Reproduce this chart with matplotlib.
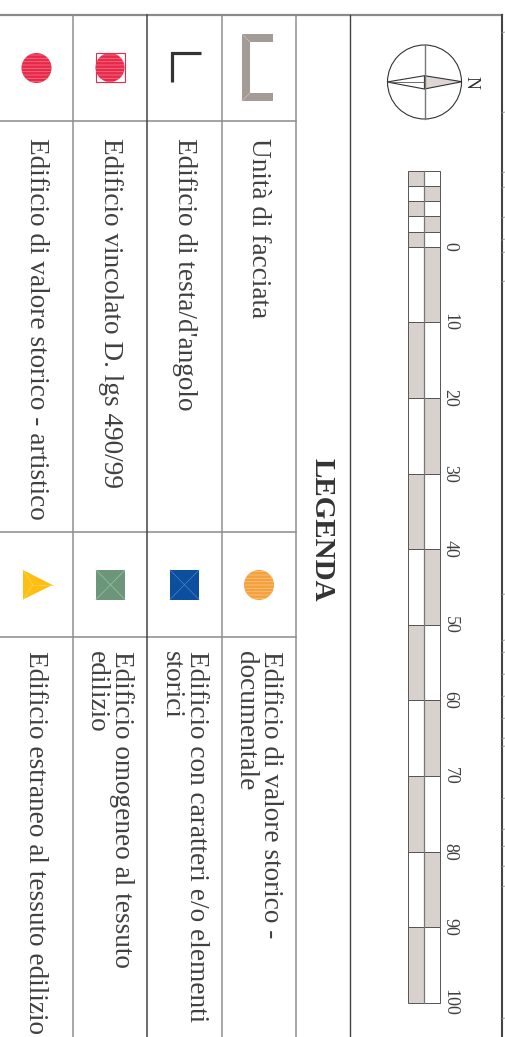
import matplotlib
matplotlib.use("Agg")
import matplotlib.pyplot as plt
from matplotlib.patches import Circle, Rectangle, Polygon

plt.rcParams['font.family'] = ['Liberation Serif', 'DejaVu Serif']
plt.rcParams['hatch.linewidth'] = 0.6

# legend entries (column 0 = left)
top_labels = ["Edificio di valore storico - artistico",
              "Edificio vincolato D. lgs 490/99",
              "Edificio di testa/d'angolo",
              "Unità di facciata"]
bottom_labels = ["Edificio estraneo al tessuto edilizio",
                 "Edificio omogeneo al tessuto\nedilizio",
                 "Edificio con caratteri e/o elementi\nstorici",
                 "Edificio di valore storico -\ndocumentale"]

# scale bar (metres)
scale_ticks = [0, 10, 20, 30, 40, 50, 60, 70, 80, 90, 100]
scale_sub = [-10, -8, -6, -4, -2]

# little marks of the map frame on the right edge
edge_marks = [33, 113, 173, 188, 218, 240, 253, 282, 595, 641, 653, 675,
              697, 719, 739, 747, 799, 830, 847, 867, 887, 1019]

W, H = 505, 1037
fig = plt.figure(figsize=(W / 100, H / 100), dpi=100)
ax = fig.add_axes([0, 0, 1, 1])
ax.set_xlim(0, W)
ax.set_ylim(H, 0)
ax.axis("off")

col_x = [73, 147, 222, 296]
col_c = [36.5, 110, 184.5, 259]
txt = "#404040"

# table lines
ax.plot([0, 502], [15, 15], color="#8a8a8a", lw=1.6)
for y in [120.5, 532, 637]:
    ax.plot([0, 296], [y, y], color="#8a8a8a", lw=1.1)
for x, c in zip(col_x, ["#8f8f8f", "#444444", "#8f8f8f", "#8f8f8f"]):
    ax.plot([x, x], [15, H], color=c, lw=1.1)
ax.plot([350, 350], [15, H], color="#444444", lw=1.0)
ax.plot([502, 502], [15, H], color="#444444", lw=1.5)
for y in edge_marks:
    ax.plot([502, 505], [y, y - 1], color="#999999", lw=0.6)

# symbols, first row
red = "#e8294a"
ax.add_patch(Circle((36.5, 68), 15, facecolor=red, edgecolor="#f3708a", lw=0, hatch="-----"))
ax.add_patch(Rectangle((95.5, 53), 29, 29, facecolor="none", edgecolor=red, lw=0.8))
ax.add_patch(Circle((110, 67.5), 14.5, facecolor=red, edgecolor="#f3708a", lw=0, hatch="-----"))
ax.plot([172, 172, 200.5], [82, 53, 53], color="#333333", lw=2.3,
        solid_joinstyle="miter", solid_capstyle="butt")
bracket = [(273, 34), (242, 34), (242, 101), (273, 101), (273, 93),
           (250, 93), (250, 42), (273, 42)]
ax.add_patch(Polygon(bracket, closed=True, facecolor="#a59b96", edgecolor="none"))
ax.plot([242, 250], [34, 42], color="#c9c1bd", lw=0.5)
ax.plot([242, 250], [101, 93], color="#c9c1bd", lw=0.5)

# symbols, second row
ax.add_patch(Polygon([(23, 570), (52.5, 585), (23, 599.5)], closed=True,
                     facecolor="#fcbf12", edgecolor="none"))
for p in [(23, 570), (52.5, 585), (23, 599.5)]:
    ax.plot([32.8, p[0]], [585, p[1]], color="#fdd35a", lw=0.5)
for x0, fc, lc in [(96, "#6c9679", "#a3c0aa"), (170, "#0b4f9e", "#4d82c4")]:
    ax.add_patch(Rectangle((x0, 570), 29, 29.5, facecolor=fc, edgecolor="none"))
    ax.plot([x0, x0 + 29], [570, 599.5], color=lc, lw=0.5)
    ax.plot([x0, x0 + 29], [599.5, 570], color=lc, lw=0.5)
ax.add_patch(Circle((259, 585), 15, facecolor="#f5a03c", edgecolor="#f9c57f", lw=0, hatch="-----"))

# legend texts
for i in range(4):
    ax.text(col_c[i], 138, top_labels[i], rotation=-90, rotation_mode="anchor",
            ha="left", va="center", fontsize=19.6, color=txt)
    ax.text(col_c[i] - 1, 651, bottom_labels[i], rotation=-90, rotation_mode="anchor",
            ha="left", va="center", fontsize=19.6, color=txt, linespacing=1.0)

ax.text(322, 530, "LEGENDA", rotation=-90, rotation_mode="anchor", ha="center",
        va="center", fontsize=21, fontweight="bold", color="#333333")

# scale bar
y0, k = 246.7, 7.56
xl, xm, xr = 408, 424, 439.5
grey = "#d9d1cd"

def sy(v):
    return y0 + v * k

for j, v in enumerate(scale_sub):
    left = grey if j % 2 == 0 else "white"
    right = "white" if j % 2 == 0 else grey
    ax.add_patch(Rectangle((xl, sy(v)), xm - xl, sy(v + 2) - sy(v), facecolor=left, edgecolor="#555555", lw=0.7))
    ax.add_patch(Rectangle((xm, sy(v)), xr - xm, sy(v + 2) - sy(v), facecolor=right, edgecolor="#555555", lw=0.7))
for n, v in enumerate(scale_ticks[:-1]):
    left = grey if n % 2 == 1 else "white"
    right = "white" if n % 2 == 1 else grey
    ax.add_patch(Rectangle((xl, sy(v)), xm - xl, sy(v + 10) - sy(v), facecolor=left, edgecolor="#555555", lw=0.7))
    ax.add_patch(Rectangle((xm, sy(v)), xr - xm, sy(v + 10) - sy(v), facecolor=right, edgecolor="#555555", lw=0.7))
ax.plot([xm, xm], [sy(scale_sub[0]), sy(scale_ticks[-1])], color="#777777", lw=0.9)
for v in scale_ticks:
    ax.text(450, sy(v), str(v), rotation=-90, rotation_mode="anchor", ha="center",
            va="center", fontsize=13, color=txt)

# north arrow
ax.add_patch(Circle((424.5, 82), 37, facecolor="none", edgecolor="#333333", lw=0.8))
ax.add_patch(Polygon([(387, 82), (424.5, 75.7), (424.5, 89)], closed=True,
                     facecolor="white", edgecolor="#333333", lw=0.8))
ax.add_patch(Polygon([(424.5, 75.7), (462, 81.7), (424.5, 89)], closed=True,
                     facecolor="#ddd6d3", edgecolor="#333333", lw=0.8))
ax.plot([387, 424.5], [82, 82], color="#555555", lw=0.6)
ax.plot([424.5, 424.5], [45, 119], color="#777777", lw=1.0)
ax.text(471, 82, "N", rotation=-90, rotation_mode="anchor", ha="center",
        va="center", fontsize=13, color="#333333")

fig.savefig("out.png", dpi=100)
